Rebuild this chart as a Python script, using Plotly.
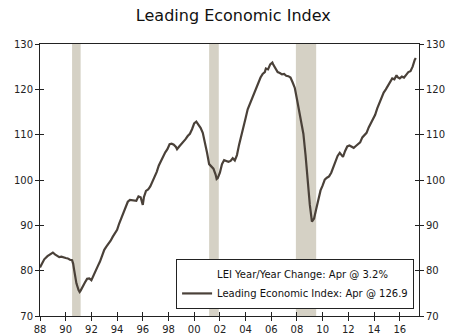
import plotly.graph_objects as go

# Leading Economic Index
dates = [
    "1988-01", "1988-03", "1988-05", "1988-08", "1988-11", "1989-01", "1989-03", "1989-05",
    "1989-07", "1989-09", "1989-11", "1990-01", "1990-03", "1990-05", "1990-07", "1990-08",
    "1990-09", "1990-10", "1990-11", "1991-01", "1991-02", "1991-03", "1991-05", "1991-07",
    "1991-09", "1991-11", "1992-01", "1992-03", "1992-05", "1992-07", "1992-09", "1992-11",
    "1993-01", "1993-03", "1993-05", "1993-07", "1993-09", "1993-11", "1994-01", "1994-03",
    "1994-05", "1994-07", "1994-09", "1994-11", "1995-01", "1995-03", "1995-05", "1995-07",
    "1995-09", "1995-11", "1996-01", "1996-02", "1996-04", "1996-06", "1996-08", "1996-10",
    "1996-12", "1997-02", "1997-04", "1997-06", "1997-08", "1997-10", "1997-12", "1998-02",
    "1998-04", "1998-06", "1998-08", "1998-09", "1998-11", "1999-01", "1999-03", "1999-05",
    "1999-07", "1999-09", "1999-11", "2000-01", "2000-03", "2000-05", "2000-07", "2000-09",
    "2000-11", "2001-01", "2001-03", "2001-05", "2001-07", "2001-09", "2001-10", "2001-11",
    "2002-01", "2002-03", "2002-05", "2002-07", "2002-09", "2002-11", "2003-01", "2003-03",
    "2003-05", "2003-07", "2003-09", "2003-11", "2004-01", "2004-03", "2004-05", "2004-07",
    "2004-09", "2004-11", "2005-01", "2005-03", "2005-05", "2005-07", "2005-08", "2005-10",
    "2005-12", "2006-02", "2006-03", "2006-05", "2006-07", "2006-09", "2006-11", "2007-01",
    "2007-03", "2007-05", "2007-07", "2007-09", "2007-11", "2008-01", "2008-03", "2008-05",
    "2008-07", "2008-09", "2008-11", "2009-01", "2009-03", "2009-05", "2009-07", "2009-09",
    "2009-11", "2010-01", "2010-03", "2010-05", "2010-07", "2010-09", "2010-11", "2011-01",
    "2011-03", "2011-05", "2011-07", "2011-08", "2011-10", "2011-12", "2012-02", "2012-04",
    "2012-06", "2012-08", "2012-10", "2012-12", "2013-02", "2013-04", "2013-06", "2013-08",
    "2013-10", "2013-12", "2014-02", "2014-04", "2014-06", "2014-08", "2014-10", "2014-12",
    "2015-02", "2015-04", "2015-06", "2015-08", "2015-10", "2015-11", "2016-01", "2016-03",
    "2016-05", "2016-07", "2016-09", "2016-11", "2017-01", "2017-03", "2017-04",
]
lei = [
    80.7, 81.6, 82.5, 83.2, 83.8, 84.0, 83.6, 83.3,
    83.0, 83.1, 82.9, 82.8, 82.7, 82.4, 82.3, 81.5,
    80.0, 78.7, 77.2, 75.7, 75.3, 75.6, 76.6, 77.4,
    78.2, 78.3, 77.9, 79.0, 80.2, 81.0, 82.0, 83.2,
    84.6, 85.3, 85.9, 86.6, 87.5, 88.2, 89.0, 90.4,
    91.6, 92.7, 94.0, 95.2, 95.6, 95.5, 95.5, 95.4,
    96.4, 96.2, 94.5, 96.2, 97.6, 97.9, 98.6, 99.6,
    100.9, 101.8, 103.2, 104.2, 105.3, 106.1, 106.8, 107.9,
    108.0, 107.8, 107.3, 106.8, 107.4, 107.9, 108.4, 109.0,
    109.7, 110.2, 111.2, 112.5, 112.9, 112.2, 111.5, 110.4,
    108.4, 106.0, 103.5, 102.9, 102.5, 101.2, 100.2, 100.4,
    101.6, 103.5, 104.4, 104.2, 104.0, 104.2, 104.8, 104.3,
    105.5, 107.8, 110.0, 111.6, 113.6, 115.6, 116.8, 117.8,
    119.2, 120.5, 121.8, 122.6, 123.4, 123.8, 124.6, 124.4,
    125.5, 125.9, 125.4, 124.6, 123.8, 123.6, 123.3, 123.4,
    123.0, 122.9, 122.6, 121.5, 120.3, 117.8, 115.4, 112.8,
    110.2, 105.5, 99.5, 94.5, 90.8, 91.5, 93.6, 95.8,
    97.7, 98.8, 100.1, 100.5, 100.8, 101.6, 102.8, 104.0,
    105.3, 106.0, 105.3, 105.1, 106.4, 107.4, 107.6, 107.3,
    107.1, 107.5, 107.9, 108.3, 109.4, 109.8, 110.4, 111.6,
    112.5, 113.6, 114.4, 115.8, 117.0, 118.0, 119.3, 120.0,
    120.8, 121.6, 122.4, 122.2, 123.1, 122.7, 122.4, 122.8,
    122.6, 123.2, 123.8, 124.0, 125.0, 126.5, 126.9,
]

recession_start = ["1990-07-01", "2001-03-01", "2007-12-01"]
recession_end = ["1991-03-01", "2001-11-30", "2009-06-30"]

yoy_label = "LEI Year/Year Change: Apr @ 3.2%"
lei_label = "Leading Economic Index: Apr @ 126.9"

x_range = ["1988-01-01", "2017-07-01"]
y_range = [70, 130]

fig = go.Figure()

# placeholder entry for the year/year series (not drawn in the picture)
fig.add_trace(go.Scatter(x=[None], y=[None], mode="lines", name=yoy_label,
                         line=dict(color="rgba(0,0,0,0)", width=2)))
fig.add_trace(go.Scatter(x=dates, y=lei, mode="lines", name=lei_label,
                         line=dict(color="#4a4139", width=2.2)))
# invisible helpers for the overlaying axes (inner tick halves)
fig.add_trace(go.Scatter(x=[None], y=[None], xaxis="x2", yaxis="y3", showlegend=False))
fig.add_trace(go.Scatter(x=[None], y=[None], xaxis="x", yaxis="y2", showlegend=False))
fig.add_trace(go.Scatter(x=[None], y=[None], xaxis="x", yaxis="y4", showlegend=False))

for s, e in zip(recession_start, recession_end):
    fig.add_shape(type="rect", xref="x", yref="y", x0=s, x1=e, y0=y_range[0], y1=y_range[1],
                  fillcolor="#d5d1c5", line=dict(width=0), layer="below")

font = "DejaVu Sans, Verdana, sans-serif"
axcol = "#222222"
tickfont = dict(family=font, size=10, color="#222222")

xcommon = dict(type="date", range=x_range, tick0="1988-01-01", dtick="M24", automargin=False,
               showgrid=False, zeroline=False, ticklen=4, tickwidth=1, tickcolor=axcol)
ycommon = dict(range=y_range, dtick=10, showgrid=False, zeroline=False, automargin=False,
               ticklen=4, tickwidth=1, tickcolor=axcol)

fig.update_layout(
    width=450, height=336,
    margin=dict(l=40, r=31, t=44, b=20),
    paper_bgcolor="white", plot_bgcolor="white",
    title=dict(text="Leading Economic Index", x=(40 + 419) / 2 / 450, xref="paper",
               xanchor="center", y=0.953, yanchor="middle",
               font=dict(family=font, size=16, color="#111111")),
    xaxis=dict(**xcommon, ticks="outside", tickformat="%y", tickfont=tickfont,
               showline=True, linecolor=axcol, linewidth=1, mirror=True),
    xaxis2=dict(**xcommon, ticks="inside", overlaying="x", matches="x",
                showticklabels=False, showline=False),
    yaxis=dict(**ycommon, ticks="outside", side="left", tickfont=tickfont,
               showline=True, linecolor=axcol, linewidth=1),
    yaxis2=dict(**ycommon, ticks="outside", side="right", overlaying="y", tickfont=tickfont,
                showline=True, linecolor=axcol, linewidth=1),
    yaxis3=dict(**ycommon, ticks="inside", side="left", overlaying="y",
                showticklabels=False, showline=False),
    yaxis4=dict(**ycommon, ticks="inside", side="right", overlaying="y",
                showticklabels=False, showline=False),
    legend=dict(x=0.987, y=0.026, xanchor="right", yanchor="bottom",
                bgcolor="white", bordercolor=axcol, borderwidth=1,
                font=dict(family=font, size=10, color="#111111"),
                tracegroupgap=0, itemwidth=30),
    showlegend=True,
)

fig.write_html("out.html")
